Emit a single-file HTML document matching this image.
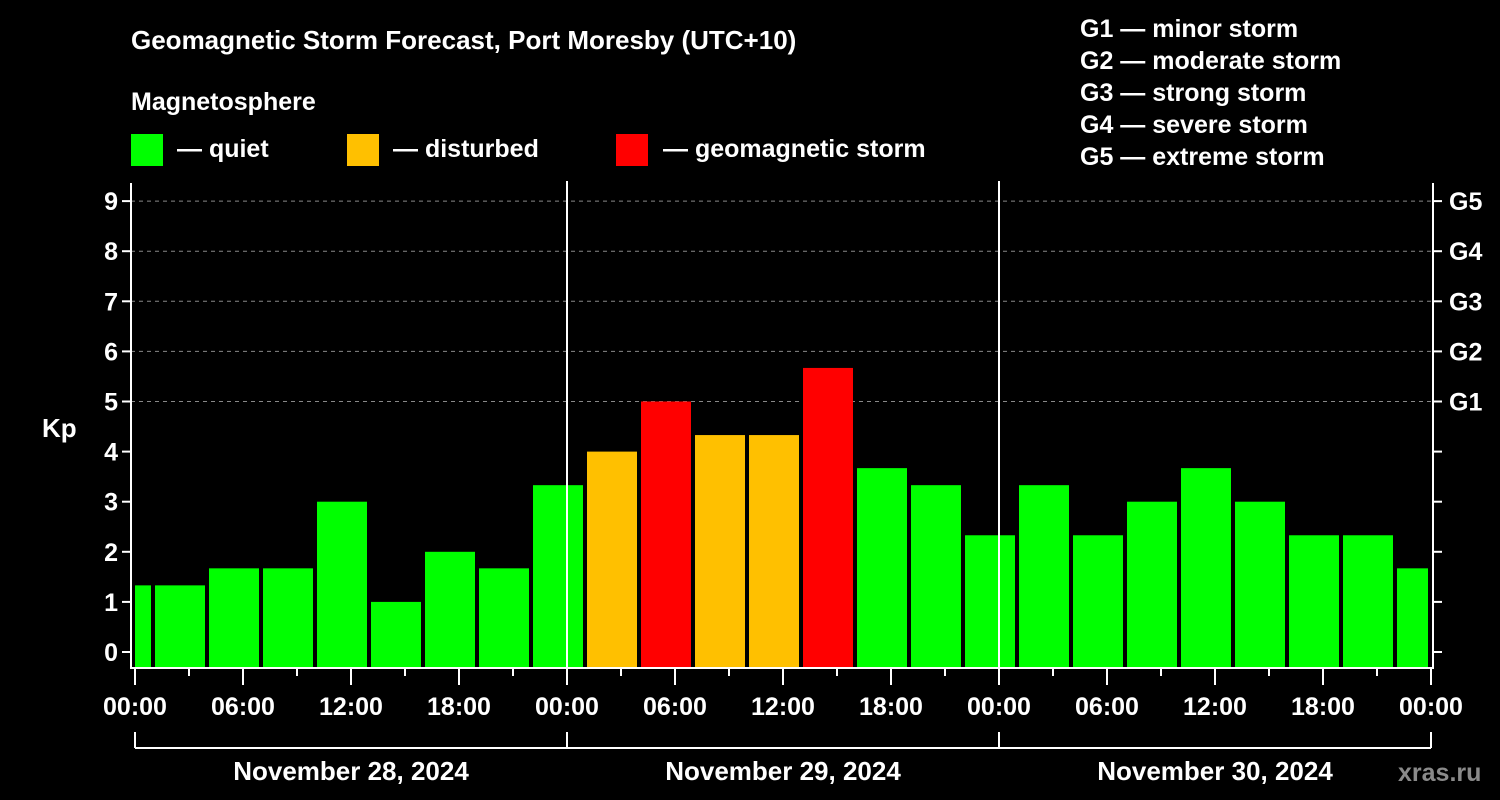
<!DOCTYPE html>
<html><head><meta charset="utf-8"><style>
html,body{margin:0;padding:0;background:#000;width:1500px;height:800px;overflow:hidden}
svg text{font-family:"Liberation Sans",sans-serif;font-weight:bold;fill:#fff}
</style></head><body>
<svg id="chart" width="1500" height="800" xmlns="http://www.w3.org/2000/svg">
<rect width="1500" height="800" fill="#000"/>
<text x="131" y="49" font-size="26">Geomagnetic Storm Forecast, Port Moresby (UTC+10)</text>
<text x="131" y="110" font-size="25">Magnetosphere</text>
<g><rect x="131" y="134" width="32" height="32" fill="#00ff00"/><text x="177" y="157" font-size="25">— quiet</text></g>
<g><rect x="347" y="134" width="32" height="32" fill="#ffc000"/><text x="393" y="157" font-size="25">— disturbed</text></g>
<g><rect x="616" y="134" width="32" height="32" fill="#ff0000"/><text x="663" y="157" font-size="25">— geomagnetic storm</text></g>
<g font-size="25">
<text x="1080" y="37">G1 — minor storm</text>
<text x="1080" y="69">G2 — moderate storm</text>
<text x="1080" y="101">G3 — strong storm</text>
<text x="1080" y="133">G4 — severe storm</text>
<text x="1080" y="165">G5 — extreme storm</text>
</g>
<text x="42" y="437" font-size="26">Kp</text>
<g id="grid"></g><g id="bars"></g><g id="axes"></g>
<text x="1398" y="781" font-size="25" fill="#888" style="fill:#8a8a8a">xras.ru</text>
</svg>
<script>
const binStartHours=[-2,1,4,7,10,13,16,19,22,25,28,31,34,37,40,43,46,49,52,55,58,61,64,67,70];
const kpValues=[1.33,1.33,1.67,1.67,3,1,2,1.67,3.33,4,5,4.33,4.33,5.67,3.67,3.33,2.33,3.33,2.33,3,3.67,3,2.33,2.33,1.67];
const kpTicks=[0,1,2,3,4,5,6,7,8,9];
const gLabels=["G1","G2","G3","G4","G5"];
const timeLabels=["00:00","06:00","12:00","18:00","00:00","06:00","12:00","18:00","00:00","06:00","12:00","18:00","00:00"];
const dayLabels=["November 28, 2024","November 29, 2024","November 30, 2024"];
const NS="http://www.w3.org/2000/svg";
const X0=135,PXH=18,Y0=652,PXK=50.1,LEFT=131,RIGHT=1433,BOT=668,TOP=181,HMAX=72;
const x=h=>X0+h*PXH, y=k=>Y0-k*PXK;
function mk(tag,attrs,parent){const e=document.createElementNS(NS,tag);for(const k in attrs)e.setAttribute(k,attrs[k]);parent.appendChild(e);return e;}
const grid=document.getElementById('grid'),bars=document.getElementById('bars'),axes=document.getElementById('axes');
for(let k=5;k<=9;k++){const l=mk('line',{x1:LEFT,x2:RIGHT,y1:y(k),y2:y(k),stroke:'#888','stroke-dasharray':'4,4','stroke-width':1},grid);

}
binStartHours.forEach((h,i)=>{const v=kpValues[i];let x1=Math.max(x(h)+2,X0),x2=Math.min(x(h+3)-2,x(HMAX)-3);
const c=v>=5?'#ff0000':(v>=4?'#ffc000':'#00ff00');
const r=mk('rect',{x:x1,y:y(v),width:x2-x1,height:BOT-y(v),fill:c},bars);

});
[24,48].forEach(h=>{const l=mk('line',{x1:x(h),x2:x(h),y1:TOP,y2:BOT,stroke:'#fff','stroke-width':2},axes);

});
mk('line',{x1:LEFT,x2:LEFT,y1:183,y2:BOT+1,stroke:'#fff','stroke-width':2},axes);
mk('line',{x1:RIGHT,x2:RIGHT,y1:183,y2:BOT+1,stroke:'#fff','stroke-width':2},axes);
mk('line',{x1:LEFT-1,x2:RIGHT+1,y1:BOT,y2:BOT,stroke:'#fff','stroke-width':2},axes);
kpTicks.forEach(k=>{mk('line',{x1:LEFT-9,x2:LEFT,y1:y(k),y2:y(k),stroke:'#fff','stroke-width':2},axes);
mk('line',{x1:RIGHT,x2:RIGHT+9,y1:y(k),y2:y(k),stroke:'#fff','stroke-width':2},axes);
const t=mk('text',{x:118,y:y(k)+9,'font-size':25,'text-anchor':'end'},axes);t.textContent=k;

});
gLabels.forEach((g,i)=>{const t=mk('text',{x:1449,y:y(5+i)+9,'font-size':25},axes);t.textContent=g;

});
for(let h=0;h<=HMAX;h+=3){const major=h%6===0;mk('line',{x1:x(h),x2:x(h),y1:BOT,y2:BOT+(major?17:8),stroke:'#fff','stroke-width':2},axes);}
timeLabels.forEach((s,i)=>{const t=mk('text',{x:x(i*6),y:715,'font-size':25,'text-anchor':'middle'},axes);t.textContent=s;

});
mk('line',{x1:x(0),x2:x(72),y1:748,y2:748,stroke:'#fff','stroke-width':2},axes);
[0,24,48,72].forEach(h=>mk('line',{x1:x(h),x2:x(h),y1:732,y2:748,stroke:'#fff','stroke-width':2},axes));
dayLabels.forEach((s,i)=>{const t=mk('text',{x:x(i*24+12),y:780,'font-size':26,'text-anchor':'middle'},axes);t.textContent=s;

});
</script>
</body></html>
